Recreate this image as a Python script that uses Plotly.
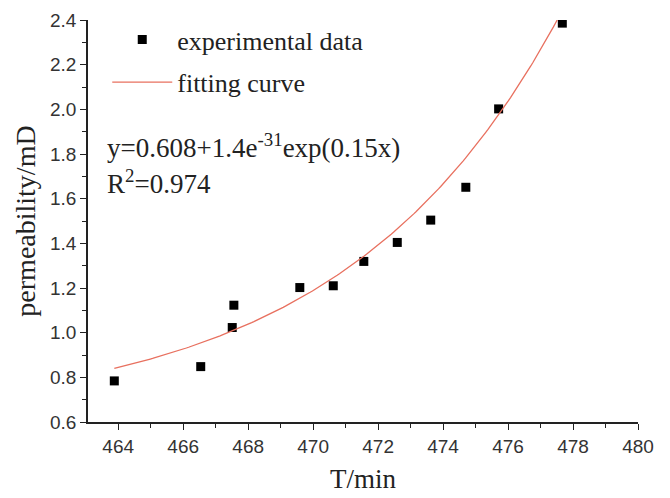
import numpy as np
import plotly.graph_objects as go

# Measured permeability versus time
time_min = [463.88, 466.54, 467.51, 467.56, 469.59, 470.62, 471.56, 472.59, 473.62, 474.70, 475.71, 477.67]
permeability_mD = [0.784, 0.848, 1.023, 1.123, 1.202, 1.210, 1.319, 1.404, 1.504, 1.651, 2.002, 2.386]

# Exponential fit: y = a + b * exp(c * x)
fit_a = 0.608
fit_b = 1.4e-31
fit_c = 0.15
r_squared = 0.974

x_ticks = [464, 466, 468, 470, 472, 474, 476, 478, 480]
y_ticks = [0.6, 0.8, 1.0, 1.2, 1.4, 1.6, 1.8, 2.0, 2.2, 2.4]

x_fit = np.linspace(min(time_min), max(time_min), 200)
y_fit = fit_a + fit_b * np.exp(fit_c * x_fit)

serif = "Liberation Serif, Times New Roman, serif"
sans = "Liberation Sans, Arial, sans-serif"
text_color = "#222"

fig = go.Figure()
fig.add_trace(go.Scatter(
    x=time_min, y=permeability_mD, mode="markers", name="experimental data",
    legendgroup="data",
    marker=dict(symbol="square", size=9, color="black"),
))
fig.add_trace(go.Scatter(
    x=x_fit, y=y_fit, mode="lines", name="fitting curve",
    legendgroup="fit",
    line=dict(color="#e8705f", width=1.3),
))

fig.add_annotation(
    x=0.03, y=0.687, xref="paper", yref="paper", xanchor="left", yanchor="middle",
    text="y=0.608+1.4e<sup>-31</sup>exp(0.15x)", showarrow=False,
    font=dict(family=serif, size=27, color=text_color),
)
fig.add_annotation(
    x=0.03, y=0.596, xref="paper", yref="paper", xanchor="left", yanchor="middle",
    text=f"R<sup>2</sup>={r_squared}", showarrow=False,
    font=dict(family=serif, size=27, color=text_color),
)

axis_common = dict(
    showline=True, linecolor=text_color, linewidth=1.5, mirror=False,
    ticks="outside", ticklen=6, tickwidth=1.3, tickcolor=text_color,
    showgrid=False, zeroline=False, automargin=False,
    tickfont=dict(family=sans, size=19, color="#333"),
    minor=dict(ticks="outside", ticklen=4, tickwidth=1.1, tickcolor=text_color),
)

fig.update_xaxes(
    range=[463.07, 480], tickvals=x_ticks,
    ticktext=[str(v) for v in x_ticks],
    minor_dtick=1, minor_tick0=463,
    title=dict(text="T/min", font=dict(family=serif, size=27, color=text_color), standoff=14),
    **axis_common,
)
fig.update_yaxes(
    range=[0.6, 2.4], tickvals=y_ticks,
    ticktext=[f"{v:.1f}" for v in y_ticks],
    minor_dtick=0.1, minor_tick0=0.6,
    title=dict(text="permeability/mD", font=dict(family=serif, size=28, color=text_color), standoff=6),
    **axis_common,
)

fig.update_layout(
    width=670, height=498,
    margin=dict(l=88, r=32, t=20, b=76),
    plot_bgcolor="white", paper_bgcolor="white",
    showlegend=True,
    legend=dict(
        x=0.035, y=1.01, xanchor="left", yanchor="top",
        bgcolor="rgba(0,0,0,0)", borderwidth=0,
        font=dict(family=serif, size=26, color=text_color),
        itemwidth=60, traceorder="grouped", tracegroupgap=6,
    ),
)

fig.write_html("out.html")
